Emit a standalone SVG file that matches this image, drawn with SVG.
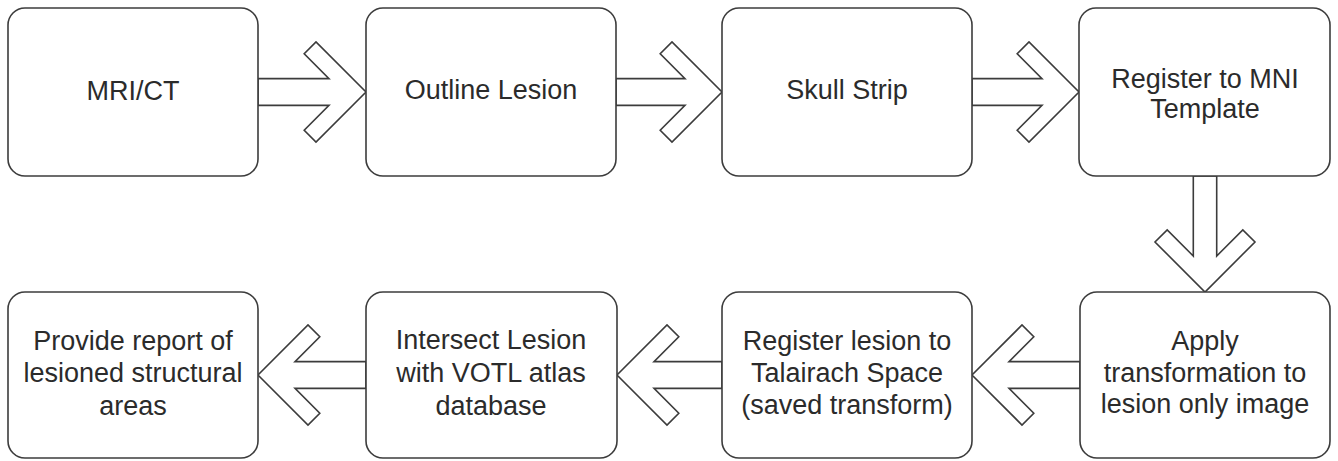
<svg xmlns="http://www.w3.org/2000/svg" width="1338" height="461" viewBox="0 0 1338 461">
  <style>
    .box { fill: #ffffff; stroke: #3c3c3c; stroke-width: 1.6; }
    .arrow { fill: #ffffff; stroke: #3c3c3c; stroke-width: 1.6; stroke-linejoin: miter; }
    .label { font-family: "Liberation Sans", Arial, sans-serif; font-size: 27px; fill: #2b2b2b; text-anchor: middle; }
  </style>
  <rect width="1338" height="461" fill="#ffffff"/>

  <!-- connectors: hollow block arrows -->
  <g id="connectors">
    <path class="arrow" d="M258,78.6 L329,78.6 L304.2,53.8 L316,42 L366,92 L316,142 L304.2,130.2 L329,105.4 L258,105.4 Z"/>
    <path class="arrow" d="M616,78.6 L685,78.6 L660.2,53.8 L672,42 L722,92 L672,142 L660.2,130.2 L685,105.4 L616,105.4 Z"/>
    <path class="arrow" d="M972,78.6 L1042,78.6 L1017.2,53.8 L1029,42 L1079,92 L1029,142 L1017.2,130.2 L1042,105.4 L972,105.4 Z"/>
    <path class="arrow" d="M1193.3,176 L1193.3,256 L1167.2,229.9 L1155,242 L1205,292 L1255,242 L1242.8,229.9 L1216.7,256 L1216.7,176 Z"/>
    <path class="arrow" d="M1080,361.6 L1009,361.6 L1033.8,336.8 L1022,325 L972,375 L1022,425 L1033.8,413.2 L1009,388.4 L1080,388.4 Z"/>
    <path class="arrow" d="M722,361.6 L654,361.6 L678.8,336.8 L667,325 L617,375 L667,425 L678.8,413.2 L654,388.4 L722,388.4 Z"/>
    <path class="arrow" d="M366,361.6 L295,361.6 L319.8,336.8 L308,325 L258,375 L308,425 L319.8,413.2 L295,388.4 L366,388.4 Z"/>
  </g>

  <!-- top row -->
  <g id="mri-ct">
    <rect class="box" x="8" y="8" width="250" height="168" rx="17"/>
    <text class="label" x="133" y="100">MRI/CT</text>
  </g>
  <g id="outline-lesion">
    <rect class="box" x="366" y="8" width="250" height="168" rx="17"/>
    <text class="label" x="491" y="99">Outline Lesion</text>
  </g>
  <g id="skull-strip">
    <rect class="box" x="722" y="8" width="250" height="168" rx="17"/>
    <text class="label" x="847" y="99">Skull Strip</text>
  </g>
  <g id="register-mni">
    <rect class="box" x="1079" y="8" width="251" height="168" rx="17"/>
    <text class="label" x="1205" y="88">Register to MNI</text>
    <text class="label" x="1205" y="118">Template</text>
  </g>

  <!-- bottom row -->
  <g id="apply-transformation">
    <rect class="box" x="1080" y="292" width="250" height="166" rx="17"/>
    <text class="label" x="1205" y="350">Apply</text>
    <text class="label" x="1205" y="382">transformation to</text>
    <text class="label" x="1205" y="413">lesion only image</text>
  </g>
  <g id="register-talairach">
    <rect class="box" x="722" y="292" width="250" height="166" rx="17"/>
    <text class="label" x="847" y="350">Register lesion to</text>
    <text class="label" x="847" y="382">Talairach Space</text>
    <text class="label" x="847" y="414">(saved transform)</text>
  </g>
  <g id="intersect-lesion">
    <rect class="box" x="366" y="292" width="251" height="166" rx="17"/>
    <text class="label" x="491" y="349">Intersect Lesion</text>
    <text class="label" x="491" y="382">with VOTL atlas</text>
    <text class="label" x="491" y="415">database</text>
  </g>
  <g id="provide-report">
    <rect class="box" x="8" y="292" width="250" height="166" rx="17"/>
    <text class="label" x="133" y="350">Provide report of</text>
    <text class="label" x="133" y="382">lesioned structural</text>
    <text class="label" x="133" y="415">areas</text>
  </g>
</svg>
